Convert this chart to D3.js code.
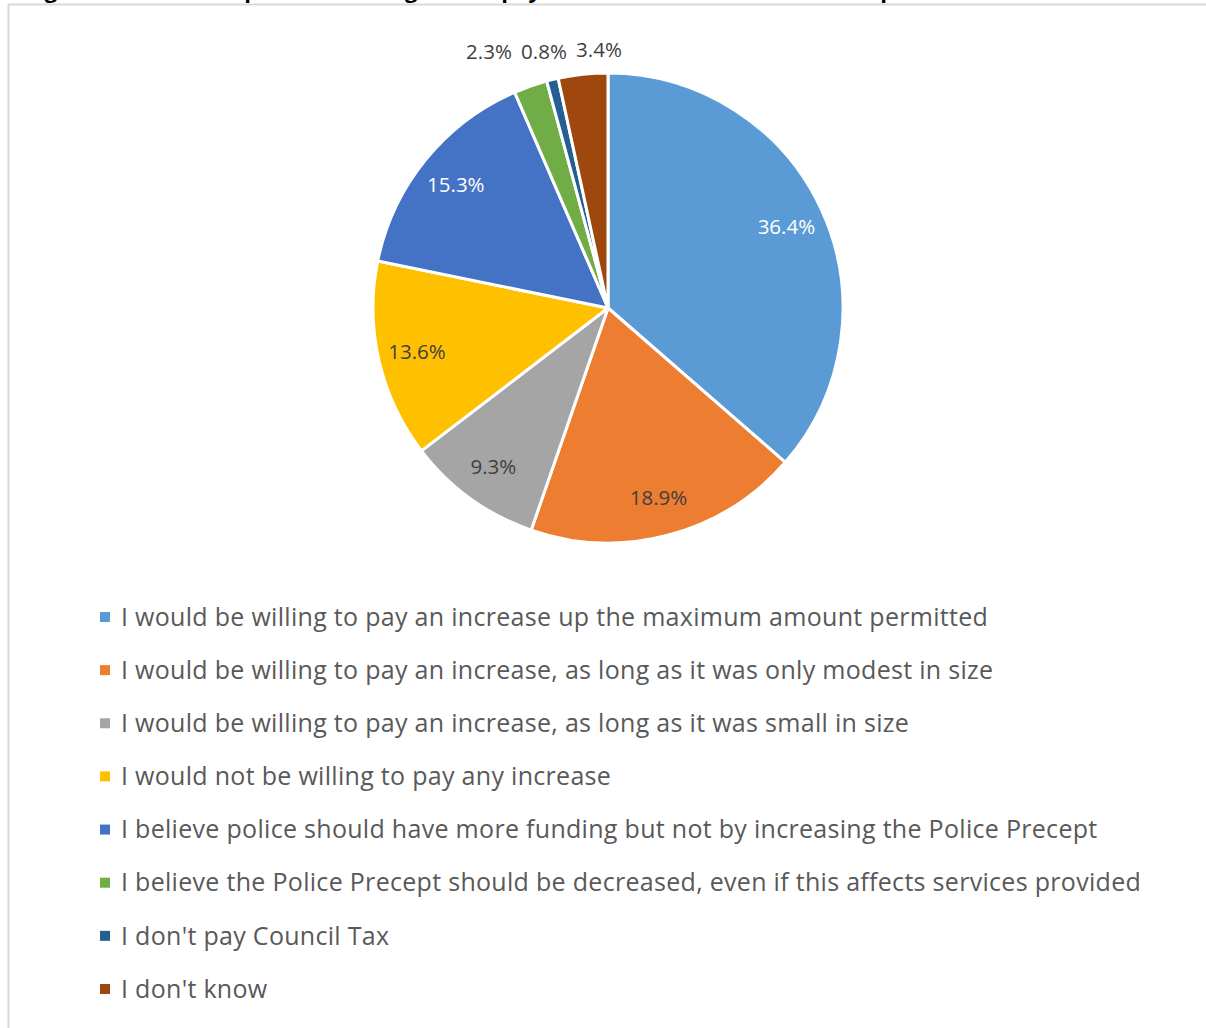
<!DOCTYPE html>
<html><head><meta charset="utf-8">
<script src="https://cdn.jsdelivr.net/npm/d3@7"></script>
<style>
html,body{margin:0;padding:0;background:#fff;overflow:hidden}
svg{display:block}
</style></head>
<body>
<svg id="chart" width="1206" height="1028"></svg>
<script>
const categories = [
  "I would be willing to pay an increase up the maximum amount permitted",
  "I would be willing to pay an increase, as long as it was only modest in size",
  "I would be willing to pay an increase, as long as it was small in size",
  "I would not be willing to pay any increase",
  "I believe police should have more funding but not by increasing the Police Precept",
  "I believe the Police Precept should be decreased, even if this affects services provided",
  "I don't pay Council Tax",
  "I don't know"
];
const values = [36.4, 18.9, 9.3, 13.6, 15.3, 2.3, 0.8, 3.4];
const colors = ["#5B9BD5", "#ED7D31", "#A5A5A5", "#FFC000", "#4472C4", "#70AD47", "#255E91", "#9E480E"];
const labelColors = ["#ffffff", "#404040", "#404040", "#404040", "#ffffff", "#404040", "#404040", "#404040"];
const titleText = "Figure 2: Overall response to willingness to pay an increase in the Police Precept";

const W = 1206, H = 1028;
const svg = d3.select("#chart");
const FONT = "'Open Sans', Lato, sans-serif";

// cut-off title (only descenders visible, as in the reference)
svg.append("text").attr("x", 26).attr("y", -2)
  .attr("font-family", FONT).attr("font-weight", "bold").attr("font-size", 22)
  .attr("fill", "#000").text(titleText);

// chart area border
svg.append("rect").attr("x", 8.5).attr("y", 4.5).attr("width", W + 20).attr("height", H + 20)
  .attr("fill", "none").attr("stroke", "#d9d9d9").attr("stroke-width", 2);

const cx = 608, cy = 308, R = 235;
const pie = d3.pie().sort(null).value(d => d)(values);
const arc = d3.arc().innerRadius(0).outerRadius(R);
const labelArc = d3.arc().innerRadius(196).outerRadius(196);

const g = svg.append("g").attr("transform", `translate(${cx},${cy})`);
g.selectAll("path").data(pie).join("path")
  .attr("d", arc).attr("fill", (d, i) => colors[i])
  .attr("stroke", "#fff").attr("stroke-width", 3).attr("stroke-linejoin", "round");

// labels
const fmt = v => v.toFixed(1) + "%";
const small = pie.filter(d => d.value < 5);
pie.forEach((d, i) => {
  let x, y;
  if (d.value >= 5) {
    [x, y] = labelArc.centroid(d);
  } else {
    const k = small.length - 1 - small.indexOf(d);
    x = -9 - 55 * k;
    y = -R - 21 + (k === 0 ? -2 : 0);
  }
  g.append("text").attr("x", x).attr("y", y).attr("dy", "0.35em")
    .attr("text-anchor", "middle").attr("font-family", FONT).attr("font-size", 20.5)
    .attr("fill", d.value >= 5 ? labelColors[i] : "#404040").text(fmt(d.value));
});

// legend
const legY = d3.scalePoint().domain(d3.range(categories.length)).range([617, 989]);
const leg = svg.append("g");
categories.forEach((c, i) => {
  const y = legY(i);
  leg.append("rect").attr("x", 100).attr("y", y - 5).attr("width", 10).attr("height", 10).attr("fill", colors[i]);
  leg.append("text").attr("x", 121).attr("y", y).attr("dy", "0.35em")
    .attr("font-family", FONT).attr("font-size", 25).attr("letter-spacing", 0.3)
    .attr("fill", "#595959").text(c);
});
</script>
</body></html>
